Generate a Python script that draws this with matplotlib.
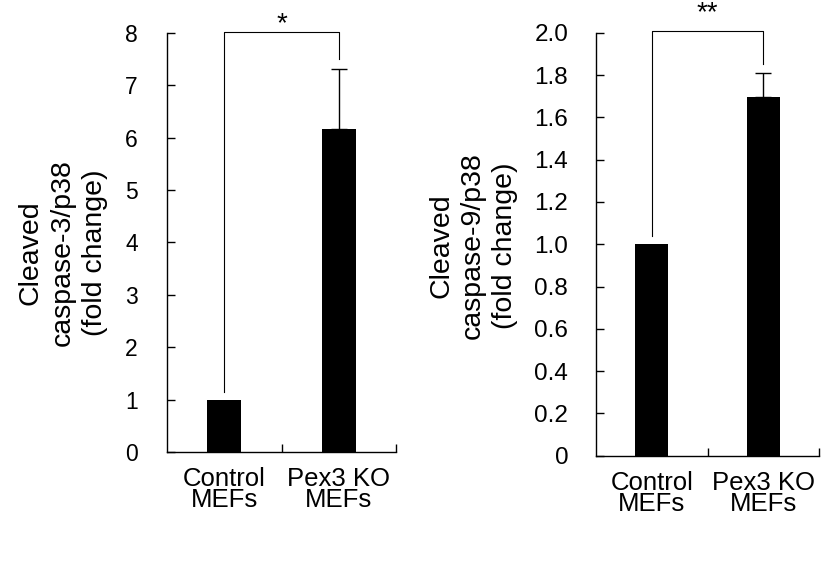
import matplotlib.pyplot as plt

plt.rcParams['font.family'] = ['Liberation Sans', 'DejaVu Sans']

groups = ['Control\nMEFs', 'Pex3 KO\nMEFs']

# caspase-3 panel
casp3_mean = [1.0, 6.16]
casp3_err = [0.0, 1.15]
casp3_ticks = [0, 1, 2, 3, 4, 5, 6, 7, 8]
casp3_tick_labels = ['0', '1', '2', '3', '4', '5', '6', '7', '8']

# caspase-9 panel
casp9_mean = [1.0, 1.695]
casp9_err = [0.0, 0.115]
casp9_ticks = [0, 0.2, 0.4, 0.6, 0.8, 1.0, 1.2, 1.4, 1.6, 1.8, 2.0]
casp9_tick_labels = ['0', '0.2', '0.4', '0.6', '0.8', '1.0', '1.2', '1.4', '1.6', '1.8', '2.0']

W, H = 831, 565
fig = plt.figure(figsize=(W / 100, H / 100), dpi=100)
ax1 = fig.add_axes([0.201, 0.200, 0.2756, 0.7416])
ax2 = fig.add_axes([0.7172, 0.1934, 0.2684, 0.7487])


def panel(ax, means, errs, ticks, tick_labels, ymax, ylabel, stars,
          leg_bottoms, label_px, star_y, ypad, tsize):
    x = [0.5, 1.5]
    ax.bar(x, means, width=0.3, color='black', zorder=2)
    ax.errorbar(x[1], means[1], yerr=[[0], [errs[1]]], fmt='none',
                ecolor='black', elinewidth=1, capsize=6, capthick=1, zorder=1)
    ax.set_xlim(0, 2)
    ax.set_ylim(0, ymax)
    ax.set_yticks(ticks)
    ax.set_yticklabels(tick_labels)
    ax.tick_params(axis='y', direction='in', length=6, width=1,
                   labelsize=tsize, pad=ypad)
    ax.set_xticks([1, 2])
    ax.set_xticklabels(['', ''])
    ax.tick_params(axis='x', which='major', direction='in', length=6, width=1)
    ax.set_xticks(x, minor=True)
    ax.set_xticklabels(groups, minor=True, fontsize=18.5, linespacing=0.85)
    ax.tick_params(axis='x', which='minor', length=0, pad=11)
    for s in ['top', 'right']:
        ax.spines[s].set_visible(False)
    for s in ['left', 'bottom']:
        ax.spines[s].set_linewidth(1)
    fig.text(label_px[0] / W, 1 - label_px[1] / H, ylabel, rotation=90,
             ha='center', va='center', fontsize=20.5, linespacing=1.3,
             multialignment='center')
    # significance bracket
    top = ymax * 1.003
    ax.plot([x[0], x[0], x[1], x[1]], [leg_bottoms[0], top, top, leg_bottoms[1]],
            color='black', lw=0.8, clip_on=False)
    ax.text(1.0, star_y, stars, ha='center', va='center', fontsize=20,
            transform=ax.get_xaxis_transform())


panel(ax1, casp3_mean, casp3_err, casp3_ticks, casp3_tick_labels, 8,
      'Cleaved\ncaspase-3/p38\n(fold change)', '*', [1.15, 7.5],
      (63, 253), 1.02, 21, 16.5)
panel(ax2, casp9_mean, casp9_err, casp9_ticks, casp9_tick_labels, 2.0,
      'Cleaved\ncaspase-9/p38\n(fold change)', '**', [1.04, 1.85],
      (473, 246), 1.045, 20, 17.5)

fig.savefig('out.png', dpi=100)
